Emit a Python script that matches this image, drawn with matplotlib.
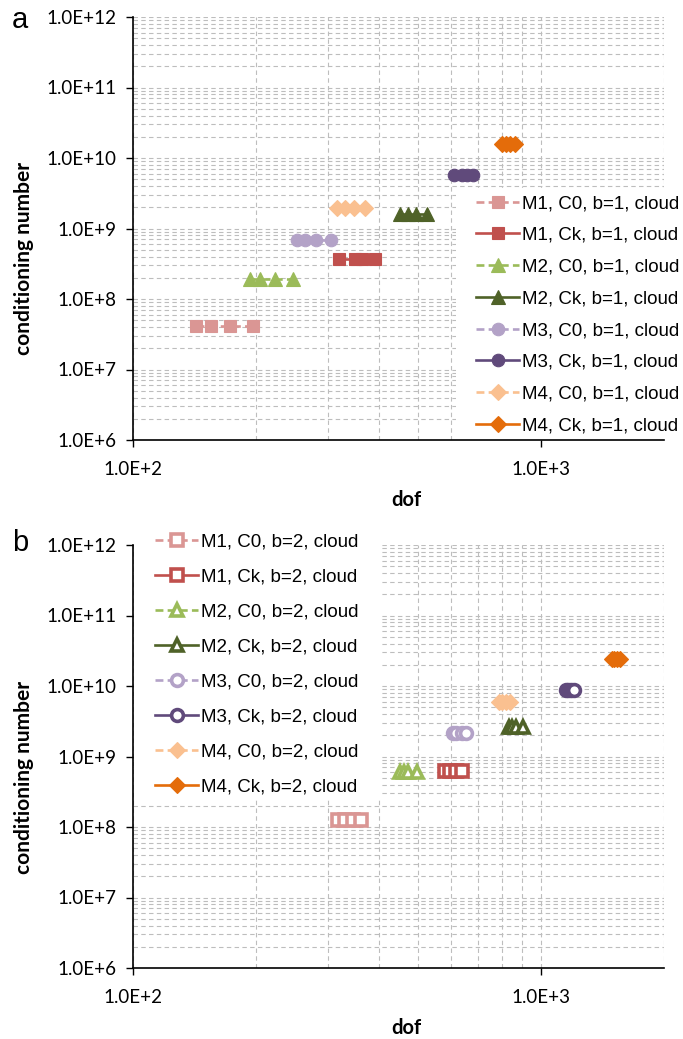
import math
import matplotlib
matplotlib.use("Agg")
import matplotlib.pyplot as plt
from matplotlib.patches import Rectangle
from matplotlib.ticker import LogLocator, FixedLocator, NullFormatter

# ---- data: degrees of freedom vs conditioning number ----
labels_a = ["M1, C0, b=1, cloud", "M1, Ck, b=1, cloud",
            "M2, C0, b=1, cloud", "M2, Ck, b=1, cloud",
            "M3, C0, b=1, cloud", "M3, Ck, b=1, cloud",
            "M4, C0, b=1, cloud", "M4, Ck, b=1, cloud"]
dof_a = [
    [143, 155, 173, 197],
    [319, 350, 363, 392],
    [194, 205, 223, 247],
    [451, 471, 494, 525],
    [252, 264, 281, 305],
    [613, 639, 657, 682],
    [316, 331, 347, 370],
    [800, 818, 838, 862],
]
cond_a = [
    [4.15e7, 4.15e7, 4.15e7, 4.15e7],
    [3.67e8, 3.67e8, 3.67e8, 3.67e8],
    [1.93e8, 1.93e8, 1.93e8, 1.93e8],
    [1.58e9, 1.58e9, 1.58e9, 1.58e9],
    [6.9e8, 6.9e8, 6.9e8, 6.9e8],
    [5.65e9, 5.65e9, 5.65e9, 5.65e9],
    [1.98e9, 1.98e9, 1.98e9, 1.98e9],
    [1.57e10, 1.57e10, 1.57e10, 1.57e10],
]

labels_b = ["M1, C0, b=2, cloud", "M1, Ck, b=2, cloud",
            "M2, C0, b=2, cloud", "M2, Ck, b=2, cloud",
            "M3, C0, b=2, cloud", "M3, Ck, b=2, cloud",
            "M4, C0, b=2, cloud", "M4, Ck, b=2, cloud"]
dof_b = [
    [318, 330, 345, 361],
    [581, 598, 620, 641],
    [451, 462, 473, 496],
    [836, 850, 867, 902],
    [608, 620, 640, 655],
    [1150, 1165, 1185, 1205],
    [787, 800, 818, 837],
    [1490, 1510, 1535, 1560],
]
cond_b = [
    [1.26e8, 1.26e8, 1.26e8, 1.26e8],
    [6.29e8, 6.29e8, 6.29e8, 6.29e8],
    [5.97e8, 5.97e8, 5.97e8, 5.97e8],
    [2.65e9, 2.65e9, 2.65e9, 2.65e9],
    [2.13e9, 2.13e9, 2.13e9, 2.13e9],
    [8.77e9, 8.77e9, 8.77e9, 8.77e9],
    [5.98e9, 5.98e9, 5.98e9, 5.98e9],
    [2.39e10, 2.39e10, 2.39e10, 2.39e10],
]

colors = ["#DA9694", "#C0504D", "#9BBB59", "#4F6228",
          "#B3A2C7", "#604A7B", "#FAC090", "#E46C0A"]
markers = ["s", "s", "^", "^", "o", "o", "D", "D"]
msizes = [9, 9, 9.5, 9.5, 9, 9, 8.5, 8.5]

x_ticks = [1e2, 1e3]
y_ticks = [1e6, 1e7, 1e8, 1e9, 1e10, 1e11, 1e12]

W, H = 683, 1039
fig = plt.figure(figsize=(W / 100, H / 100), dpi=100)

TICK_FONT = "Lato"
LEGEND_FONT = "Liberation Sans"


def fmt_sci(v):
    exp = int(round(math.log10(v)))
    return f"1.0E+{exp}"


def fig_box(x0, y0, x1, y1):
    """Box in pixel coordinates (top-left origin) -> figure fractions."""
    return (x0 / W, 1 - y1 / H, (x1 - x0) / W, (y1 - y0) / H)


def setup_axes(ax, label_y):
    ax.set_xscale("log")
    ax.set_yscale("log")
    ax.set_xlim(100, 2000)
    ax.set_ylim(1e6, 1e12)
    for s in ("top", "right"):
        ax.spines[s].set_visible(False)
    for s in ("left", "bottom"):
        ax.spines[s].set_linewidth(1.2)
        ax.spines[s].set_color("black")
        ax.spines[s].set_zorder(6)
    ax.xaxis.set_major_locator(FixedLocator(x_ticks))
    ax.yaxis.set_major_locator(FixedLocator(y_ticks))
    ax.set_xticklabels([fmt_sci(v) for v in x_ticks])
    ax.set_yticklabels([fmt_sci(v) for v in y_ticks])
    ax.xaxis.set_minor_locator(LogLocator(base=10, subs=range(2, 10)))
    ax.yaxis.set_minor_locator(LogLocator(base=10, subs=range(2, 10), numticks=20))
    ax.xaxis.set_minor_formatter(NullFormatter())
    ax.yaxis.set_minor_formatter(NullFormatter())
    ax.tick_params(axis="both", which="major", direction="out", length=5,
                   width=1.0, labelsize=13.5, color="black")
    ax.tick_params(axis="y", which="major", pad=7)
    ax.tick_params(axis="x", which="major", pad=10)
    ax.tick_params(axis="both", which="minor", length=0)
    for lab in ax.get_xticklabels() + ax.get_yticklabels():
        lab.set_fontfamily(TICK_FONT)
    ax.grid(True, which="both", axis="both", color="#bdbdbd",
            linestyle=(0, (4, 3)), linewidth=0.8)
    ax.set_axisbelow(True)
    ax.set_xlabel("dof", fontsize=14.5, fontweight="bold", family=TICK_FONT)
    ax.set_ylabel("conditioning number", fontsize=15, fontweight="bold",
                  family=TICK_FONT)
    ax.xaxis.set_label_coords(0.515, -0.118)
    ax.yaxis.set_label_coords(-0.186, label_y)


def draw_series(ax, dofs, conds, labels, hollow):
    handles = []
    for i, (xs, ys, lab) in enumerate(zip(dofs, conds, labels)):
        ls = (0, (3, 1.6)) if i % 2 == 0 else "-"
        kw = dict(color=colors[i], linestyle=ls, linewidth=1.9,
                  marker=markers[i], markersize=msizes[i], label=lab,
                  zorder=3)
        if hollow and markers[i] != "D":
            kw.update(markerfacecolor="white", markeredgecolor=colors[i],
                      markeredgewidth=2.6, markersize=msizes[i] - 0.5)
        else:
            kw.update(markerfacecolor=colors[i], markeredgecolor=colors[i],
                      markeredgewidth=0.8)
        h, = ax.plot(xs, ys, **kw)
        handles.append(h)
    return handles


def legend_block(ax, handles, box, anchor, spacing):
    # white area hiding the gridlines behind the legend
    bg = Rectangle(box[:2], box[2], box[3], transform=fig.transFigure,
                   facecolor="white", edgecolor="none", zorder=1,
                   clip_on=False)
    ax.add_patch(bg)
    leg = ax.legend(handles=handles, loc="upper left",
                    bbox_to_anchor=anchor, bbox_transform=fig.transFigure,
                    prop={"family": LEGEND_FONT, "size": 13.5},
                    frameon=False, handlelength=2.3, handletextpad=0.15,
                    labelspacing=spacing, borderpad=0.0, borderaxespad=0)
    return leg


# ---- panel a ----
ax_a = fig.add_axes([133 / W, 1 - 440 / H, 531 / W, 423 / H])
setup_axes(ax_a, 0.43)
ha = draw_series(ax_a, dof_a, cond_a, labels_a, hollow=False)
legend_block(ax_a, ha, fig_box(456, 188, 683, 440),
             (476 / W, 1 - 195 / H), 0.78)
fig.text(12 / W, 1 - 20 / H, "a", fontsize=21, family=LEGEND_FONT,
         ha="left", va="center")

# ---- panel b ----
ax_b = fig.add_axes([133 / W, 1 - 968 / H, 531 / W, 423 / H])
setup_axes(ax_b, 0.45)
hb = draw_series(ax_b, dof_b, cond_b, labels_b, hollow=True)
legend_block(ax_b, hb, fig_box(134, 545, 382, 800),
             (155 / W, 1 - 533 / H), 0.96)
fig.text(12 / W, 1 - 543 / H, "b", fontsize=21, family=LEGEND_FONT,
         ha="left", va="center")

fig.savefig("out.png", dpi=100, facecolor="white")
